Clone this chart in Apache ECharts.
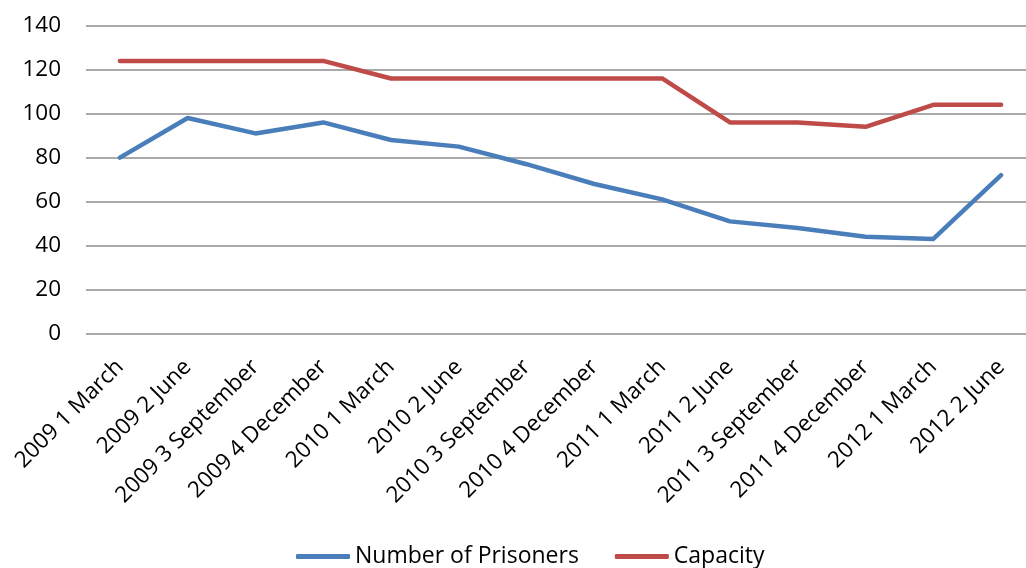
<!DOCTYPE html>
<html>
<head>
<meta charset="utf-8">
<script src="https://cdn.jsdelivr.net/npm/echarts@6/dist/echarts.min.js"></script>
<style>
  html, body { margin: 0; padding: 0; background: #fff; overflow: hidden; }
  /* canvas is a little wider than the window so the plot area runs off the right edge */
  #chart { width: 1040px; height: 568px; }
</style>
</head>
<body>
<div id="chart"></div>
<script>
// Quarterly periods
const categories = [
  '2009 1 March', '2009 2 June', '2009 3 September', '2009 4 December',
  '2010 1 March', '2010 2 June', '2010 3 September', '2010 4 December',
  '2011 1 March', '2011 2 June', '2011 3 September', '2011 4 December',
  '2012 1 March', '2012 2 June'
];
const prisoners = [80, 98, 91, 96, 88, 85, 77, 68, 61, 51, 48, 44, 43, 72];
const capacity = [124, 124, 124, 124, 116, 116, 116, 116, 116, 96, 96, 94, 104, 104];
const yTicks = { min: 0, max: 140, interval: 20 };

const FONT = '"Open Sans", "Liberation Sans", sans-serif';
const chart = echarts.init(document.getElementById('chart'), null, { renderer: 'canvas' });

chart.setOption({
  animation: false,
  backgroundColor: '#ffffff',
  grid: { left: 86, width: 949, top: 25.7, height: 307.8, containLabel: false },
  legend: {
    left: 296,
    top: 545,
    padding: 0,
    itemWidth: 54,
    itemHeight: 5,
    itemGap: 36,
    icon: 'roundRect',
    textStyle: { fontFamily: FONT, fontSize: 23, color: '#000' },
    data: ['Number of Prisoners', 'Capacity']
  },
  xAxis: {
    type: 'category',
    data: categories,
    boundaryGap: true,
    axisLine: { show: false },
    axisTick: { show: false },
    axisLabel: {
      rotate: 45,
      interval: 0,
      margin: 30,
      fontFamily: FONT,
      fontSize: 22.5,
      color: '#000'
    }
  },
  yAxis: {
    type: 'value',
    min: yTicks.min,
    max: yTicks.max,
    interval: yTicks.interval,
    axisLine: { show: false },
    axisTick: { show: false },
    axisLabel: { margin: 25, fontFamily: FONT, fontSize: 22.5, color: '#000' },
    splitLine: { lineStyle: { color: '#8c8c8c', width: 1.5 } }
  },
  series: [
    {
      name: 'Number of Prisoners',
      type: 'line',
      data: prisoners,
      symbol: 'none',
      color: '#4a7ebb',
      lineStyle: { width: 4.5, cap: 'round', join: 'round' }
    },
    {
      name: 'Capacity',
      type: 'line',
      data: capacity,
      symbol: 'none',
      color: '#be4b48',
      lineStyle: { width: 4.5, cap: 'round', join: 'round' }
    }
  ]
});
</script>
</body>
</html>
